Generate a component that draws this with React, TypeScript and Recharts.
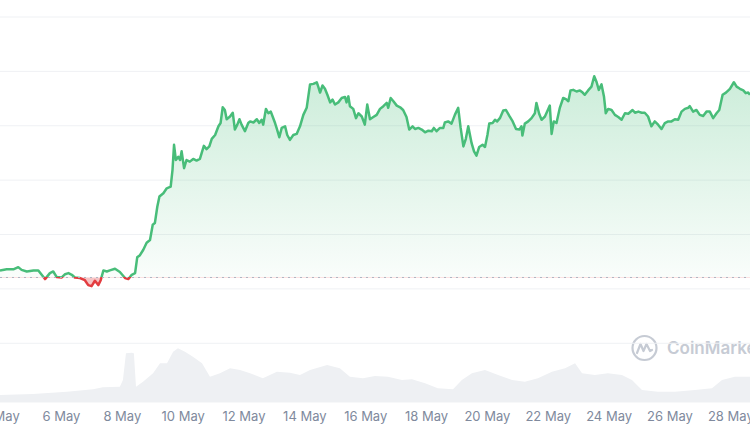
import { ComposedChart, Area, XAxis, YAxis, CartesianGrid, ReferenceLine } from 'recharts';

// price line: day of May (fractional) and price
const priceDays = [
  3.98, 4.2, 4.42, 4.58, 4.69, 4.86, 5.08, 5.24, 5.35, 5.46,
  5.62, 5.73, 5.84, 6.01, 6.12, 6.23, 6.34, 6.44, 6.61, 6.77,
  6.88, 6.99, 7.1, 7.21, 7.29, 7.38, 7.49, 7.59, 7.76, 7.92,
  8.09, 8.2, 8.31, 8.42, 8.49, 8.58, 8.69, 8.8, 8.91, 9.0,
  9.07, 9.15, 9.22, 9.35, 9.46, 9.59, 9.65, 9.7, 9.76, 9.84,
  9.9, 9.95, 10.03, 10.11, 10.22, 10.33, 10.44, 10.55, 10.61, 10.68,
  10.77, 10.86, 10.94, 11.05, 11.16, 11.23, 11.3, 11.37, 11.43, 11.54,
  11.63, 11.7, 11.78, 11.85, 11.92, 12.03, 12.14,
  12.2, 12.31, 12.42, 12.5, 12.58, 12.63, 12.72, 12.8, 12.88, 12.94,
  13.02, 13.07, 13.16, 13.24, 13.35, 13.42, 13.51, 13.62, 13.73, 13.84,
  13.95, 14.06, 14.17, 14.28, 14.39, 14.44, 14.5, 14.58, 14.66, 14.74,
  14.83, 14.91, 14.99, 15.1, 15.21, 15.32, 15.37, 15.43, 15.48, 15.59,
  15.68, 15.76, 15.87, 15.97, 16.05, 16.14, 16.25, 16.36, 16.47, 16.58,
  16.69, 16.74, 16.82, 16.91, 17.02, 17.13, 17.23, 17.34, 17.43, 17.54,
  17.62, 17.73, 17.84, 17.95, 18.06, 18.17, 18.24, 18.33, 18.44, 18.55,
  18.6, 18.71, 18.82, 18.93, 19.04, 19.12, 19.21, 19.29, 19.37, 19.48,
  19.56, 19.64, 19.73, 19.84, 19.92, 20.0, 20.06, 20.17, 20.25, 20.32,
  20.41, 20.52, 20.61, 20.72, 20.83, 20.94, 21.05, 21.12, 21.15, 21.23,
  21.34, 21.45, 21.56, 21.61, 21.7, 21.78, 21.89, 22.0, 22.05, 22.11,
  22.18, 22.27, 22.38, 22.49, 22.58, 22.66, 22.73, 22.82, 22.93, 23.04,
  23.13, 23.2, 23.31, 23.42, 23.51, 23.59, 23.66, 23.75, 23.83, 23.89,
  23.97, 24.08, 24.19, 24.3, 24.41, 24.52, 24.63, 24.77, 24.85, 24.96,
  25.07, 25.17, 25.28, 25.39, 25.5, 25.61, 25.72, 25.83, 25.94, 26.05,
  26.16, 26.27, 26.38, 26.49, 26.6, 26.65, 26.76, 26.87, 26.98, 27.09,
  27.2, 27.31, 27.42, 27.53, 27.62, 27.73, 27.84, 27.97, 28.1, 28.19,
  28.3, 28.41, 28.49, 28.57, 28.63,
];

const prices = [
  2.34, 2.36, 2.36, 2.4, 2.35, 2.32, 2.34, 2.34, 2.26, 2.18,
  2.29, 2.32, 2.22, 2.21, 2.27, 2.29, 2.26, 2.21, 2.2, 2.16,
  2.07, 2.05, 2.15, 2.07, 2.16, 2.34, 2.32, 2.34, 2.37, 2.31,
  2.2, 2.18, 2.26, 2.29, 2.58, 2.62, 2.72, 2.85, 2.9, 3.18,
  3.21, 3.51, 3.7, 3.76, 3.85, 3.88, 4.19, 4.65, 4.37, 4.43,
  4.37, 4.53, 4.22, 4.37, 4.34, 4.39, 4.36, 4.39, 4.5, 4.63,
  4.57, 4.62, 4.76, 4.83, 4.99, 5.05, 5.34, 5.29, 5.12, 5.17,
  5.24, 4.93, 5.02, 5.12, 5.02, 4.9, 5.05,
  5.08, 5.06, 5.12, 5.05, 5.11, 5.02, 5.31, 5.23, 5.26, 5.17,
  5.05, 4.96, 4.79, 4.96, 4.99, 4.83, 4.74, 4.83, 4.85, 4.99,
  5.2, 5.33, 5.76, 5.77, 5.8, 5.72, 5.61, 5.74, 5.68, 5.57,
  5.43, 5.48, 5.39, 5.43, 5.51, 5.53, 5.43, 5.54, 5.36, 5.31,
  5.14, 5.23, 5.17, 5.02, 5.39, 5.12, 5.16, 5.2, 5.31, 5.36,
  5.42, 5.33, 5.51, 5.45, 5.37, 5.34, 5.29, 5.16, 4.93, 4.99,
  4.94, 4.96, 4.93, 4.88, 4.91, 4.9, 4.96, 4.9, 4.96, 4.96,
  5.06, 5.08, 5.04, 5.2, 5.33, 4.96, 4.62, 4.76, 4.99, 4.68,
  4.53, 4.45, 4.61, 4.65, 4.61, 4.83, 5.04, 5.05, 5.11, 5.08,
  5.14, 5.28, 5.29, 5.18, 5.08, 4.94, 4.93, 4.99, 4.82, 5.04,
  5.08, 5.14, 5.23, 5.42, 5.22, 5.11, 5.17, 5.31, 5.37, 4.85,
  5.08, 5.05, 5.33, 5.51, 5.49, 5.45, 5.65, 5.66, 5.63, 5.65,
  5.61, 5.57, 5.65, 5.72, 5.91, 5.8, 5.66, 5.76, 5.54, 5.23,
  5.31, 5.29, 5.2, 5.16, 5.11, 5.23, 5.22, 5.29, 5.24, 5.26,
  5.24, 5.24, 5.17, 4.99, 5.08, 5.02, 4.94, 5.05, 5.08, 5.08,
  5.12, 5.11, 5.26, 5.31, 5.33, 5.36, 5.26, 5.29, 5.2, 5.18,
  5.26, 5.26, 5.14, 5.23, 5.29, 5.57, 5.61, 5.68, 5.8, 5.72,
  5.68, 5.65, 5.6, 5.61, 5.57,
];

// opening price of the period (dotted line)
const openPrice = 2.21;

const volumeDays = [
  3.98, 5.06, 6.18, 7.04, 7.36, 7.92, 8.02, 8.12, 8.31, 8.38,
  8.45, 8.68, 9.01, 9.24, 9.47, 9.67, 9.83, 10.06, 10.32, 10.62,
  10.88, 11.21, 11.54, 11.87, 12.2, 12.62, 13.08, 13.51, 13.84, 14.17,
  14.73, 15.15, 15.48, 15.91, 16.3, 16.73, 17.19, 17.52, 17.95, 18.37,
  18.87, 19.16, 19.49, 19.92, 20.35, 20.81, 21.23, 21.66, 22.12, 22.55,
  22.88, 23.11, 23.53, 23.96, 24.42, 24.75, 25.08, 25.6, 26.16, 26.82,
  27.38, 27.71, 28.13, 28.63,
];

const volumes = [
  28, 32, 41, 51, 59, 61, 88, 195, 197, 195,
  61, 81, 115, 155, 155, 201, 215, 201, 181, 155,
  101, 115, 135, 128, 115, 95, 121, 117, 108, 128,
  148, 135, 101, 95, 104, 101, 88, 91, 75, 55,
  51, 88, 115, 128, 108, 88, 81, 95, 121, 135,
  155, 115, 108, 115, 108, 88, 48, 41, 41, 48,
  55, 88, 101, 101,
];

const dayTicks = [4, 6, 8, 10, 12, 14, 16, 18, 20, 22, 24, 26, 28];
const priceTicks = [1, 2, 3, 4, 5, 6, 7];

const UP = '#48bd79';
const DOWN = '#e23b3f';

type Row = { t: number; price?: number; vol?: number };

const rows: Row[] = [
  ...priceDays.map((t, i) => ({ t, price: prices[i] })),
  ...volumeDays.map((t, i) => ({ t, vol: volumes[i] })),
].sort((a, b) => a.t - b.t);

const pMax = Math.max(...prices);
const pMin = Math.min(...prices);
const off = (pMax - openPrice) / (pMax - pMin);

function Watermark() {
  return (
    <div
      style={{
        position: 'absolute',
        left: 631,
        top: 334,
        display: 'flex',
        alignItems: 'center',
        gap: 9,
        color: '#c6cbd4',
        fontFamily: 'Inter, sans-serif',
        fontWeight: 600,
        fontSize: 17,
        whiteSpace: 'nowrap',
      }}
    >
      <svg width={27} height={28} viewBox="0 0 27 28">
        <circle cx={13.5} cy={14} r={12} fill="none" stroke="#c6cbd4" strokeWidth={2.2} />
        <path
          d="M6 19 L9.5 10 L12.5 17 L15.5 10 L19 17 L21 16"
          fill="none"
          stroke="#c6cbd4"
          strokeWidth={2.2}
          strokeLinejoin="round"
          strokeLinecap="round"
        />
      </svg>
      <span>CoinMarketCap</span>
    </div>
  );
}

export default function App() {
  return (
    <div
      style={{
        position: 'absolute',
        left: 0,
        top: 0,
        width: 750,
        height: 430,
        overflow: 'hidden',
        background: '#fff',
      }}
    >
      <Watermark />
      <div style={{ position: 'absolute', left: 0, top: 0 }}>
        <ComposedChart
          width={750}
          height={430}
          data={rows}
          margin={{ top: 17, right: 0, bottom: 0, left: 0 }}
        >
          <defs>
            <linearGradient id="priceStroke" x1="0" y1="0" x2="0" y2="1">
              <stop offset={off} stopColor={UP} />
              <stop offset={off} stopColor={DOWN} />
            </linearGradient>
            <linearGradient id="priceFill" x1="0" y1="0" x2="0" y2="1">
              <stop offset={0} stopColor={UP} stopOpacity={0.28} />
              <stop offset={off} stopColor={UP} stopOpacity={0.03} />
              <stop offset={off} stopColor={DOWN} stopOpacity={0.3} />
              <stop offset={1} stopColor={DOWN} stopOpacity={0.3} />
            </linearGradient>
          </defs>
          <CartesianGrid yAxisId="price" vertical={false} stroke="#eff1f4" />
          <XAxis
            dataKey="t"
            type="number"
            domain={[3.98, 28.63]}
            allowDataOverflow
            ticks={dayTicks}
            interval={0}
            tickFormatter={(v: number) => `${v} May`}
            tick={{ fill: '#808a9d', fontSize: 13, fontFamily: 'Inter, sans-serif' }}
            tickLine={false}
            axisLine={false}
            tickMargin={4}
            height={28}
          />
          <YAxis yAxisId="price" hide domain={[-0.08, 7]} ticks={priceTicks} />
          <YAxis yAxisId="vol" hide domain={[0, 1540]} />
          <Area
            yAxisId="vol"
            type="linear"
            dataKey="vol"
            stroke="none"
            fill="#eef0f3"
            fillOpacity={1}
            connectNulls
            isAnimationActive={false}
          />
          <ReferenceLine
            yAxisId="price"
            y={openPrice}
            stroke="#aeb4c1"
            strokeDasharray="2 4"
          />
          <Area
            yAxisId="price"
            type="linear"
            dataKey="price"
            baseValue={openPrice}
            stroke="url(#priceStroke)"
            strokeWidth={2.5}
            strokeLinejoin="round"
            fill="url(#priceFill)"
            fillOpacity={1}
            connectNulls
            dot={false}
            activeDot={false}
            isAnimationActive={false}
          />
        </ComposedChart>
      </div>
    </div>
  );
}
